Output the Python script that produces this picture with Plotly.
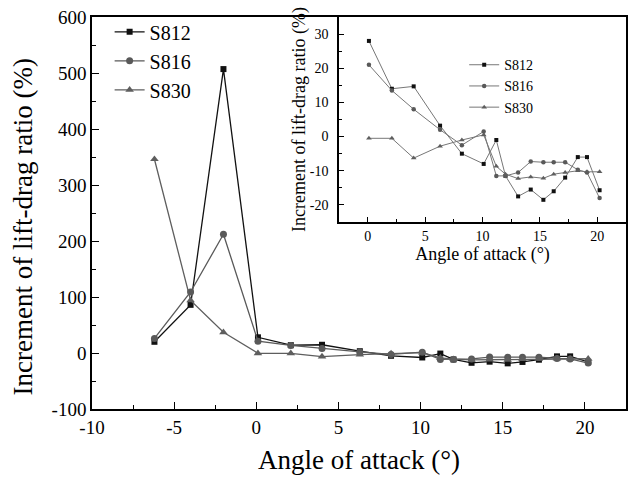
import plotly.graph_objects as go

# Data
angle = [-6.2, -4.0, -2.0, 0.1, 2.1, 4.0, 6.3, 8.2, 10.1, 11.2, 12.0, 13.1, 14.2, 15.3, 16.2, 17.2, 18.3, 19.1, 20.2]
s812 = [20, 86, 507, 28, 14, 14.7, 3.2, -5, -8, -1, -11.5, -17.5, -15.5, -18.5, -16, -12, -6, -6, -15.7]
s816 = [26, 109, 212, 21, 13.5, 8, 2, -2.5, 1.5, -11.5, -11.5, -10.5, -7.3, -7.5, -7.5, -7.5, -9.7, -10.5, -18]
s830 = [346, 94, 37, -0.5, -0.5, -6.3, -2.8, -1, 0.5, -8.7, -11, -12.3, -11.8, -12.2, -11, -10.5, -10, -10.3, -10.3]
names = ["S812", "S816", "S830"]
inset_start = 3  # inset shows angles >= 0

main_xticks = [-10, -5, 0, 5, 10, 15, 20]
main_yticks = [-100, 0, 100, 200, 300, 400, 500, 600]
inset_xticks = [0, 5, 10, 15, 20]
inset_yticks = [-20, -10, 0, 10, 20, 30]

FONT = "Liberation Serif"
colors = ["#111111", "#595959", "#5e5e5e"]
symbols = ["square", "circle", "triangle-up"]
msize_main = [6, 7, 7.5]
msize_inset = [4, 4.5, 5]

fig = go.Figure()
for name, ys, c, sym, ms in zip(names, [s812, s816, s830], colors, symbols, msize_main):
    fig.add_trace(go.Scatter(x=angle, y=ys, name=name, mode="lines+markers",
                             line=dict(color=c, width=1.3),
                             marker=dict(symbol=sym, size=ms, color=c),
                             xaxis="x", yaxis="y", legend="legend"))
for name, ys, c, sym, ms in zip(names, [s812, s816, s830], colors, symbols, msize_inset):
    fig.add_trace(go.Scatter(x=angle[inset_start:], y=ys[inset_start:], name=name, mode="lines+markers",
                             line=dict(color="#777777", width=1),
                             marker=dict(symbol=sym, size=ms, color=c),
                             xaxis="x2", yaxis="y2", legend="legend2"))

axis_common = dict(showgrid=False, zeroline=False, showline=True, linecolor="black",
                   linewidth=1.5, ticks="inside", tickcolor="black", mirror=True,
                   tickmode="array")

def lab(v):
    return [str(t).replace("\u2212", "-") for t in v]

fig.update_layout(
    width=633, height=483,
    margin=dict(l=92, r=5, t=17, b=74),
    paper_bgcolor="white", plot_bgcolor="white",
    font=dict(family=FONT, color="black"),
    xaxis=dict(domain=[0, 1], range=[-10, 22.5],
               tickvals=main_xticks, ticktext=lab(main_xticks), ticklen=7,
               minor=dict(ticks="inside", dtick=2.5, tick0=0, ticklen=4, tickcolor="black"),
               tickfont=dict(size=19, family=FONT),
               title=dict(text="Angle of attack (°)", font=dict(size=27, family=FONT), standoff=14),
               anchor="y", **axis_common),
    yaxis=dict(domain=[0, 1], range=[-100, 600],
               tickvals=main_yticks, ticktext=lab(main_yticks), ticklen=7,
               minor=dict(ticks="inside", dtick=50, ticklen=4, tickcolor="black"),
               tickfont=dict(size=19, family=FONT),
               anchor="x", **axis_common),
    xaxis2=dict(domain=[0.4627, 1], range=[-2.5, 22.5],
                tickvals=inset_xticks, ticktext=lab(inset_xticks), ticklen=5,
                minor=dict(ticks="inside", dtick=2.5, tick0=0, ticklen=3, tickcolor="black"),
                tickfont=dict(size=14, family=FONT),
                title=dict(text="Angle of attack (°)", font=dict(size=18, family=FONT), standoff=4),
                anchor="y2", **axis_common),
    yaxis2=dict(domain=[0.477, 1], range=[-25, 35],
                tickvals=inset_yticks, ticktext=lab(inset_yticks), ticklen=5,
                minor=dict(ticks="inside", dtick=5, ticklen=3, tickcolor="black"),
                tickfont=dict(size=14, family=FONT), ticklabelstandoff=6,
                title=dict(text="Increment of lift-drag ratio (%)", font=dict(size=18, family=FONT), standoff=0),
                anchor="x2", **axis_common),
    legend=dict(x=0.033, y=1.012, xanchor="left", yanchor="top", bgcolor="rgba(0,0,0,0)",
                font=dict(size=20, family=FONT), itemwidth=30, tracegroupgap=0),
    legend2=dict(x=0.697, y=0.918, xanchor="left", yanchor="top", bgcolor="rgba(0,0,0,0)",
                 font=dict(size=14, family=FONT), itemwidth=30, tracegroupgap=0),
    showlegend=True,
    annotations=[dict(text="Increment of lift-drag ratio (%)", textangle=-90,
                      xref="paper", yref="paper", x=-0.1287, y=0.464,
                      xanchor="center", yanchor="middle", showarrow=False,
                      font=dict(size=27, family=FONT))],
)

fig.write_html("out.html")
